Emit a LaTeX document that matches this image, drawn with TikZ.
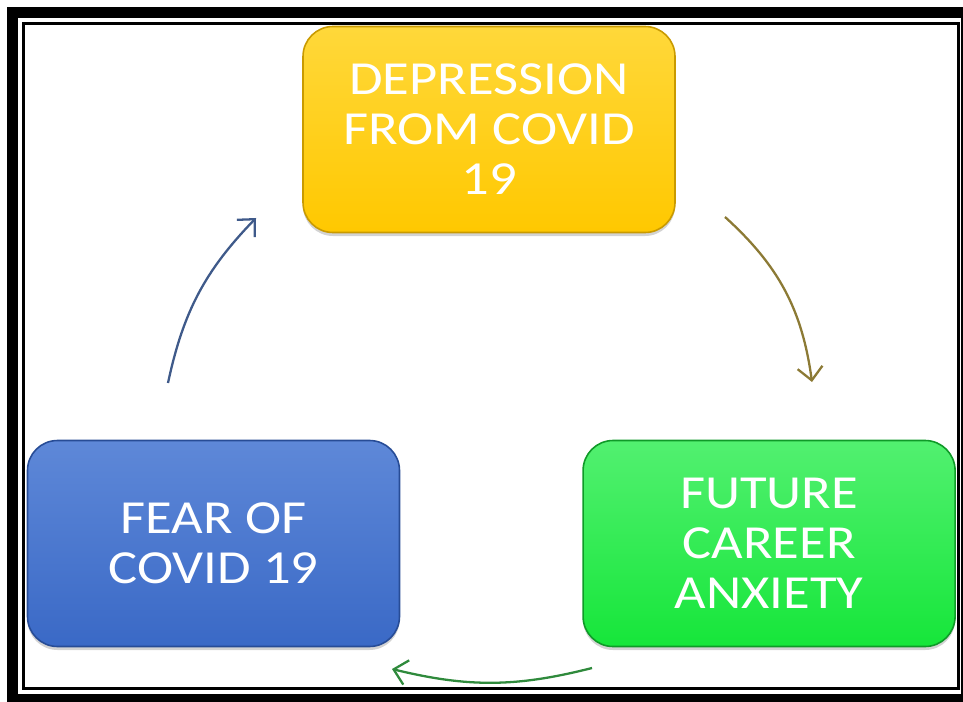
\documentclass[tikz,border=0pt]{standalone}
\usepackage{fontspec}
\setmainfont{Carlito}[FakeStretch=1.15]
\usepackage{xcolor}
\usetikzlibrary{positioning, arrows.meta, shadows}

\definecolor{yelTop}{HTML}{FFD83A}
\definecolor{yelBot}{HTML}{FFC800}
\definecolor{yelRim}{HTML}{C99A00}
\definecolor{bluTop}{HTML}{5E88D8}
\definecolor{bluBot}{HTML}{3A69C6}
\definecolor{bluRim}{HTML}{274C96}
\definecolor{grnTop}{HTML}{52F070}
\definecolor{grnBot}{HTML}{16E63A}
\definecolor{grnRim}{HTML}{0F9A28}
\definecolor{arrGold}{HTML}{8C7A35}
\definecolor{arrBlue}{HTML}{3F5A8A}
\definecolor{arrGreen}{HTML}{2F8A3C}

\begin{document}
\begin{tikzpicture}[
  box/.style={rectangle, rounded corners=0.6cm, draw, line width=0.9pt,
              minimum width=7.44cm, minimum height=4.12cm, align=center,
              text=white, font=\fontsize{27}{28.5}\selectfont,
              drop shadow={shadow xshift=0pt, shadow yshift=-0.07cm, opacity=0.35}},
  cyc/.style={line width=1.3pt, -{Straight Barb[length=2.6mm, width=5mm]}},
]
  \useasboundingbox (0,0) rectangle (19.26,14.02);

  % frames
  \draw[line width=0.22cm] (0.25,0.03) rectangle (19.33,13.77);
  \draw[line width=0.06cm] (0.47,0.25) rectangle (19.17,13.55);

  \node[box, top color=yelTop, bottom color=yelBot, draw=yelRim] (dep) at (9.78,11.43)
       {DEPRESSION\\FROM COVID\\19};
  \node[box, top color=bluTop, bottom color=bluBot, draw=bluRim] (fear) at (4.27,3.15)
       {FEAR OF\\COVID 19};
  \node[box, top color=grnTop, bottom color=grnBot, draw=grnRim, right=3.64cm of fear] (career)
       {FUTURE\\CAREER\\ANXIETY};

  \coordinate (a1) at (14.50,9.68);
  \coordinate (a2) at (16.24,6.38);
  \coordinate (b1) at (11.84,0.66);
  \coordinate (b2) at (7.84,0.64);
  \coordinate (c1) at (3.36,6.36);
  \coordinate (c2) at (5.12,9.66);

  \draw[cyc, arrGold]  (a1) to[bend left=20] (a2);
  \draw[cyc, arrGreen] (b1) to[bend left=14] (b2);
  \draw[cyc, arrBlue]  (c1) to[bend left=16] (c2);

\end{tikzpicture}
\end{document}
